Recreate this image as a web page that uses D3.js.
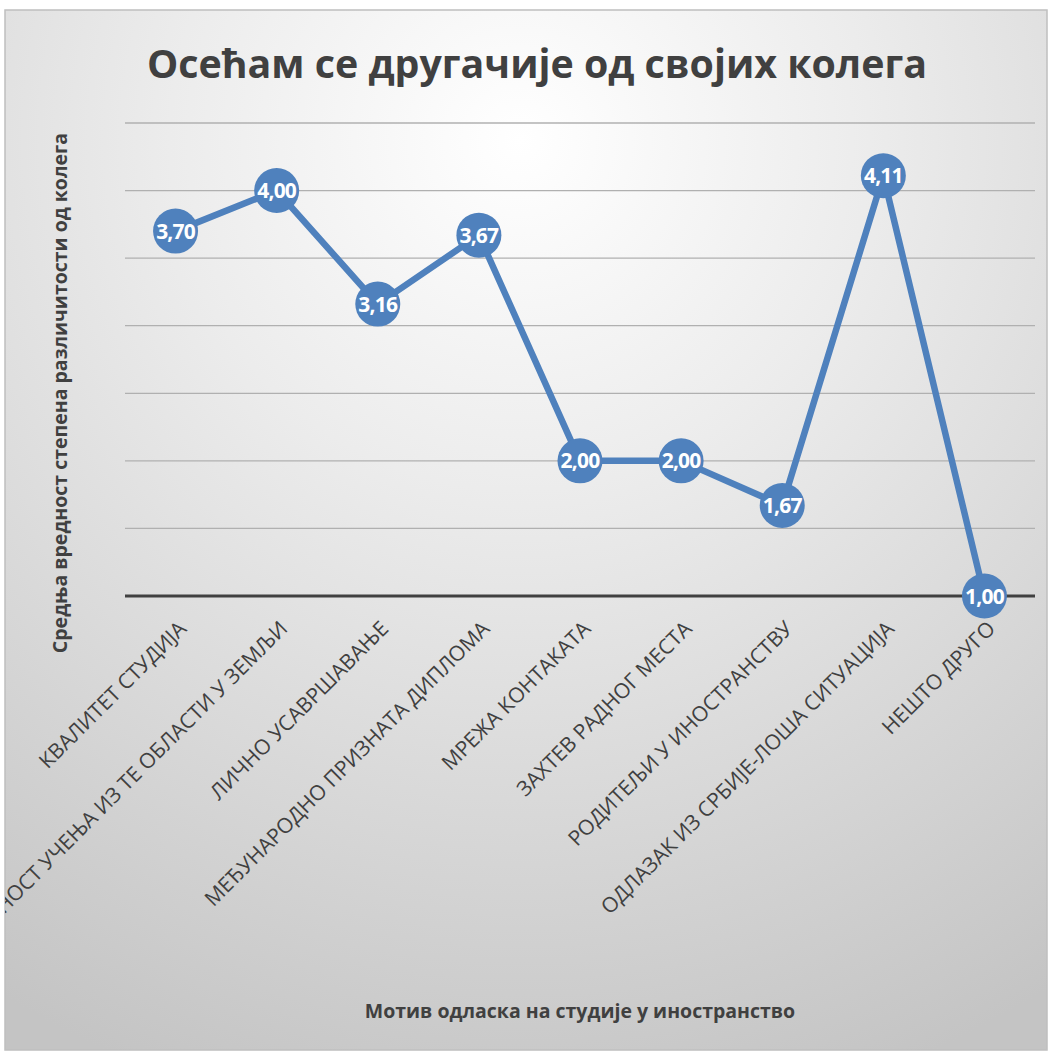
<!DOCTYPE html>
<html>
<head>
<meta charset="utf-8">
<script src="https://cdn.jsdelivr.net/npm/d3@7"></script>
<style>
  html, body { margin: 0; padding: 0; background: #fff; }
  svg { display: block; }
</style>
</head>
<body>
<svg id="chart" width="1051" height="1052"></svg>
<script>
// Motive for studying abroad vs. mean perceived difference from colleagues
const categories = [
  "КВАЛИТЕТ СТУДИЈА",
  "НЕМОГУЋНОСТ УЧЕЊА ИЗ ТЕ ОБЛАСТИ У ЗЕМЉИ",
  "ЛИЧНО УСАВРШАВАЊЕ",
  "МЕЂУНАРОДНО ПРИЗНАТА ДИПЛОМА",
  "МРЕЖА КОНТАКАТА",
  "ЗАХТЕВ РАДНОГ МЕСТА",
  "РОДИТЕЉИ У ИНОСТРАНСТВУ",
  "ОДЛАЗАК ИЗ СРБИЈЕ-ЛОША СИТУАЦИЈА",
  "НЕШТО ДРУГО"
];
const meanValues = [3.70, 4.00, 3.16, 3.67, 2.00, 2.00, 1.67, 4.11, 1.00];
const gridTicks = [1.0, 1.5, 2.0, 2.5, 3.0, 3.5, 4.0, 4.5];

const titleText = "Осећам се другачије од својих колега";
const yTitleText = "Средња вредност степена различитости од колега";
const xTitleText = "Мотив одласка на студије у иностранство";

const frame = { x: 5, y: 10, w: 1042, h: 1040 };
const plot = { left: 125, right: 1035, top: 123, bottom: 596 };

const svg = d3.select("#chart");
const defs = svg.append("defs");

const grad = defs.append("radialGradient")
  .attr("id", "bg")
  .attr("gradientUnits", "userSpaceOnUse")
  .attr("cx", 520).attr("cy", 140).attr("r", 1000);
grad.append("stop").attr("offset", 0).attr("stop-color", "#ffffff");
grad.append("stop").attr("offset", 0.35).attr("stop-color", "#ececec");
grad.append("stop").attr("offset", 1).attr("stop-color", "#c4c4c4");

defs.append("clipPath").attr("id", "frameClip")
  .append("rect")
  .attr("x", frame.x).attr("y", frame.y)
  .attr("width", frame.w).attr("height", frame.h);

svg.append("rect")
  .attr("x", frame.x).attr("y", frame.y)
  .attr("width", frame.w).attr("height", frame.h)
  .attr("fill", "url(#bg)")
  .attr("stroke", "#bfbfbf").attr("stroke-width", 1.5);

const g = svg.append("g").attr("clip-path", "url(#frameClip)");

const x = d3.scaleBand().domain(categories).range([plot.left, plot.right]);
const y = d3.scaleLinear().domain([1, 4.5]).range([plot.bottom, plot.top]);
const cx = d => x(d) + x.bandwidth() / 2;

// horizontal gridlines
g.append("g")
  .selectAll("line")
  .data(gridTicks.filter(t => t > 1))
  .join("line")
  .attr("x1", plot.left).attr("x2", plot.right)
  .attr("y1", d => y(d)).attr("y2", d => y(d))
  .attr("stroke", "#b0b0b0").attr("stroke-width", 1.3);

// category axis
const xAxis = g.append("g")
  .attr("transform", `translate(0,${plot.bottom})`)
  .call(d3.axisBottom(x).tickSize(0).tickPadding(0));
xAxis.select(".domain").remove();
xAxis.selectAll("line").remove();
g.append("line")
  .attr("x1", plot.left).attr("x2", plot.right)
  .attr("y1", y(1)).attr("y2", y(1))
  .attr("stroke", "#404040").attr("stroke-width", 3);

xAxis.selectAll("text")
  .attr("font-family", "'Open Sans', sans-serif")
  .attr("font-size", 21)
  .attr("fill", "#404040")
  .attr("text-anchor", "end")
  .attr("dy", 0)
  .attr("transform", "translate(12,34) rotate(-45)");

// series line
const pts = categories.map((c, i) => ({ c, v: meanValues[i] }));
g.append("path")
  .datum(pts)
  .attr("fill", "none")
  .attr("stroke", "#4f81bd")
  .attr("stroke-width", 6.5)
  .attr("stroke-linejoin", "round")
  .attr("d", d3.line().x(d => cx(d.c)).y(d => y(d.v)));

// markers
g.append("g")
  .selectAll("circle")
  .data(pts)
  .join("circle")
  .attr("cx", d => cx(d.c))
  .attr("cy", d => y(d.v))
  .attr("r", 22.5)
  .attr("fill", "#4f81bd");

// value labels
g.append("g")
  .selectAll("text")
  .data(pts)
  .join("text")
  .attr("x", d => cx(d.c))
  .attr("y", d => y(d.v))
  .attr("dy", "0.36em")
  .attr("text-anchor", "middle")
  .attr("font-family", "'Open Sans', sans-serif")
  .attr("font-weight", 700)
  .attr("font-size", 21)
  .attr("letter-spacing", -0.8)
  .attr("fill", "#ffffff")
  .text(d => d3.format(".2f")(d.v).replace(".", ","));

// chart title
g.append("text")
  .attr("x", 537).attr("y", 78)
  .attr("text-anchor", "middle")
  .attr("font-family", "'Open Sans', sans-serif")
  .attr("font-weight", 700)
  .attr("font-size", 40)
  .attr("textLength", 780)
  .attr("lengthAdjust", "spacingAndGlyphs")
  .attr("fill", "#404040")
  .text(titleText);

// value axis title
g.append("text")
  .attr("transform", "translate(67,393) rotate(-90)")
  .attr("text-anchor", "middle")
  .attr("font-family", "'Open Sans', sans-serif")
  .attr("font-weight", 700)
  .attr("font-size", 19.5)
  .attr("fill", "#404040")
  .text(yTitleText);

// category axis title
g.append("text")
  .attr("x", 580).attr("y", 1018)
  .attr("text-anchor", "middle")
  .attr("font-family", "'Open Sans', sans-serif")
  .attr("font-weight", 700)
  .attr("font-size", 19.5)
  .attr("fill", "#404040")
  .text(xTitleText);
</script>
</body>
</html>
